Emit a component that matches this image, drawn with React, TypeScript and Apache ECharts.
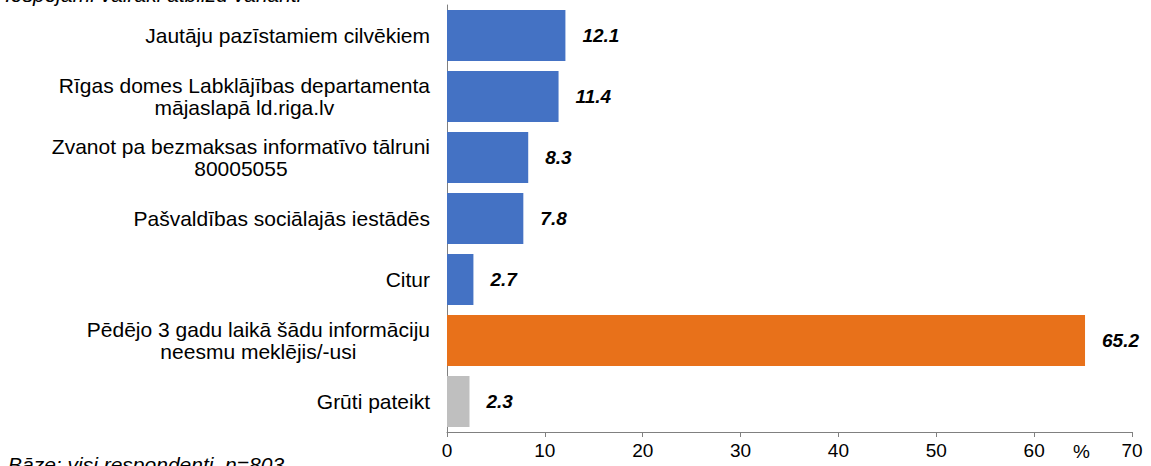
import React, { useEffect, useRef } from "react";
import * as echarts from "echarts";

const categories = [
  "Jautāju pazīstamiem cilvēkiem",
  "Rīgas domes Labklājības departamenta\nmājaslapā ld.riga.lv",
  "Zvanot pa bezmaksas informatīvo tālruni\n80005055",
  "Pašvaldības sociālajās iestādēs",
  "Citur",
  "Pēdējo 3 gadu laikā šādu informāciju\nneesmu meklējis/-usi",
  "Grūti pateikt",
];
const values = [12.1, 11.4, 8.3, 7.8, 2.7, 65.2, 2.3];
const barColors = ["#4472C4", "#4472C4", "#4472C4", "#4472C4", "#4472C4", "#E8711A", "#BFBFBF"];
const xTicks = { min: 0, max: 70, interval: 10 };
const topNote = "Iespējami vairāki atbilžu varianti";
const baseNote = "Bāze: visi respondenti, n=803";
const unitLabel = "%";

export default function App() {
  const ref = useRef<HTMLDivElement>(null);
  useEffect(() => {
    const chart = echarts.init(ref.current!, null, { renderer: "svg" });
    const font = "Arial, 'Liberation Sans', sans-serif";
    chart.setOption({
      animation: false,
      textStyle: { fontFamily: font },
      grid: { left: 447, right: 19, top: 5, bottom: 34, containLabel: false },
      xAxis: {
        type: "value",
        min: xTicks.min,
        max: xTicks.max,
        interval: xTicks.interval,
        splitLine: { show: false },
        axisLine: { show: true, lineStyle: { color: "#808080", width: 1 } },
        axisTick: { show: true, length: 5, lineStyle: { color: "#808080" } },
        axisLabel: { color: "#000", fontSize: 19, margin: 9, fontFamily: font },
      },
      yAxis: {
        type: "category",
        inverse: true,
        data: categories,
        axisLine: { show: true, lineStyle: { color: "#808080", width: 1 } },
        axisTick: { show: false },
        axisLabel: {
          margin: 17,
          align: "right",
          formatter: (v: string) =>
            v
              .split("\n")
              .map((l) => "{c|" + l + "}")
              .join("\n"),
          rich: {
            c: {
              color: "#000",
              fontSize: 21,
              lineHeight: 22,
              align: "center",
              fontFamily: font,
            },
          },
        },
      },
      series: [
        {
          type: "bar",
          barCategoryGap: "16%",
          data: values.map((v, i) => ({ value: v, itemStyle: { color: barColors[i] } })),
          label: {
            show: true,
            position: "right",
            distance: 17,
            color: "#000",
            fontSize: 19,
            fontWeight: "bold",
            fontStyle: "italic",
            fontFamily: font,
            formatter: (p: any) => Number(p.value).toFixed(1),
          },
        },
      ],
      graphic: [
        {
          type: "text",
          left: 5,
          top: -16,
          style: { text: topNote, fontSize: 21, fontStyle: "italic", fill: "#000", fontFamily: font },
        },
        {
          type: "text",
          left: 8,
          top: 454,
          style: { text: baseNote, fontSize: 21, fontStyle: "italic", fill: "#000", fontFamily: font },
        },
        {
          type: "text",
          left: 1073,
          top: 442,
          style: { text: unitLabel, fontSize: 19, fill: "#000", fontFamily: font },
        },
      ],
    });
    return () => chart.dispose();
  }, []);
  return <div ref={ref} style={{ width: 1151, height: 466, position: "absolute", left: 0, top: 0 }} />;
}
